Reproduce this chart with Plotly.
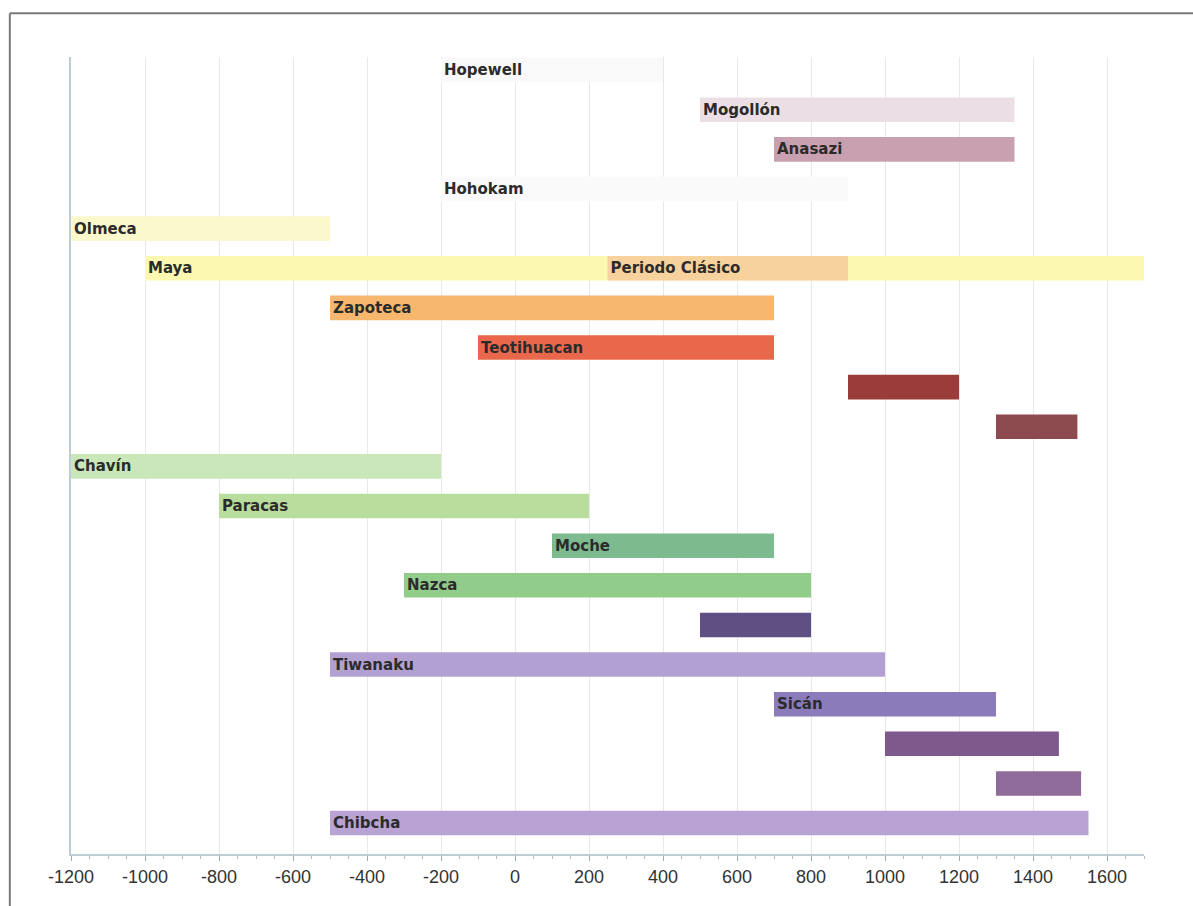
import plotly.graph_objects as go

# Cultures, one row each (top to bottom); empty label = bar drawn without text
labels = ["Hopewell", "Mogollón", "Anasazi", "Hohokam", "Olmeca", "Maya",
          "Zapoteca", "Teotihuacan", "", "", "Chavín", "Paracas", "Moche",
          "Nazca", "", "Tiwanaku", "Sicán", "", "", "Chibcha"]
starts = [-200, 500, 700, -200, -1200, -1000, -500, -100, 900, 1300,
          -1200, -800, 100, -300, 500, -500, 700, 1000, 1300, -500]
ends = [400, 1350, 1350, 900, -500, 1700, 700, 700, 1200, 1520,
        -200, 200, 700, 800, 800, 1000, 1300, 1470, 1530, 1550]
colors = ["#faf9f9", "#ebdfe5", "#c9a0b0", "#fbfafa", "#fbf9cc", "#fcf8b2",
          "#f7b86e", "#e9684c", "#9a3c3a", "#8d4a4f", "#c9e7b8", "#b9dd9c",
          "#7dbb8e", "#92cc8a", "#5f4f82", "#b3a0d2", "#8b7bbb", "#80598c",
          "#8e6b98", "#b9a2d4"]

# Maya classic period segment
classic_label = "Periodo Clásico"
classic_start, classic_end = 250, 900
classic_color = "#f8d29c"

rows = list(range(len(labels)))
label_font = dict(family="DejaVu Sans", size=15, color="#2b2b2b", weight="bold")

fig = go.Figure()
fig.add_trace(go.Bar(
    y=rows, base=starts, x=[e - s for s, e in zip(starts, ends)],
    orientation="h", width=0.62, marker=dict(color=colors, line=dict(width=0)),
    text=labels, textposition="inside", insidetextanchor="start",
    textfont=label_font, constraintext="none", hoverinfo="skip",
))
fig.add_trace(go.Bar(
    y=[labels.index("Maya")], base=[classic_start], x=[classic_end - classic_start],
    orientation="h", width=0.62, marker=dict(color=classic_color, line=dict(width=0)),
    text=[classic_label], textposition="inside", insidetextanchor="start",
    textfont=label_font, constraintext="none", hoverinfo="skip",
))

# frame lines around the chart
frame = dict(color="#7a7a7a", width=2)
fig.add_shape(type="line", xref="paper", yref="paper", x0=-0.057, x1=1.1,
              y0=1.055, y1=1.055, line=frame)
fig.add_shape(type="line", xref="paper", yref="paper", x0=-0.057, x1=-0.057,
              y0=1.055, y1=-0.07, line=frame)

fig.update_layout(
    width=1193, height=906, barmode="overlay", showlegend=False,
    paper_bgcolor="white", plot_bgcolor="white",
    margin=dict(l=71, r=49, t=57, b=52),
    uniformtext=dict(mode=False),
    xaxis=dict(
        range=[-1200, 1700], tickvals=list(range(-1200, 1601, 200)),
        ticktext=[str(v) for v in range(-1200, 1601, 200)],
        showgrid=True, gridcolor="#e8e8e8", gridwidth=1, zeroline=False,
        showline=True, linecolor="#bccdd6", linewidth=2,
        ticks="outside", ticklen=5, tickcolor="#9aaab2",
        minor=dict(dtick=50, ticks="outside", ticklen=3, tickcolor="#b0bcc2", showgrid=False),
        tickfont=dict(family="Liberation Sans", size=18, color="#333333"),
    ),
    yaxis=dict(
        range=[19.78, -0.33], showticklabels=False, showgrid=False,
        zeroline=False, showline=True, linecolor="#bccdd6", linewidth=2,
        ticks="",
    ),
)

fig.write_html("out.html")
